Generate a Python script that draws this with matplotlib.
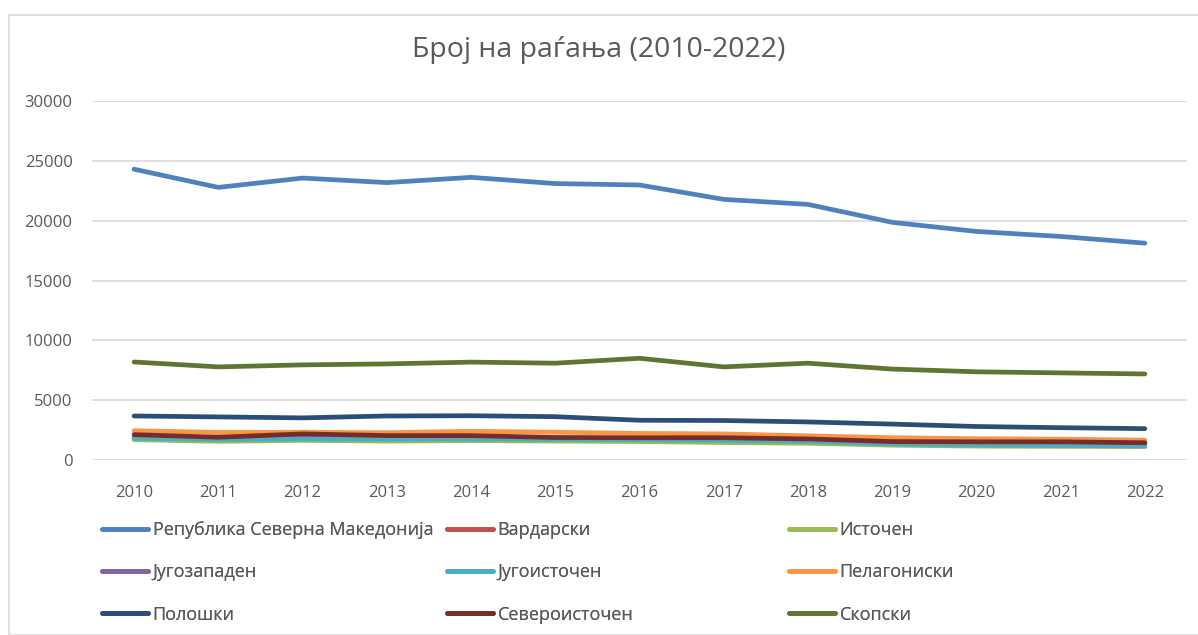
import matplotlib.pyplot as plt
from matplotlib.patches import Rectangle

plt.rcParams['font.family'] = ['Open Sans', 'DejaVu Sans']

years = list(range(2010, 2023))

# births per region
republika = [24300, 22780, 23560, 23180, 23620, 23100, 22980, 21780, 21360, 19860, 19100, 18680, 18120]
vardarski = [1800, 1720, 1780, 1740, 1760, 1700, 1680, 1620, 1560, 1420, 1360, 1340, 1300]
istochen = [1700, 1560, 1640, 1580, 1620, 1580, 1540, 1460, 1400, 1240, 1160, 1140, 1120]
jugozapaden = [1950, 1860, 1920, 1880, 1900, 1840, 1800, 1740, 1680, 1500, 1420, 1400, 1360]
jugoistochen = [1820, 1720, 1760, 1740, 1760, 1720, 1700, 1640, 1560, 1340, 1260, 1220, 1180]
pelagoniski = [2450, 2300, 2320, 2280, 2400, 2320, 2220, 2180, 2020, 1860, 1780, 1740, 1660]
poloshki = [3680, 3600, 3520, 3680, 3700, 3620, 3320, 3300, 3180, 3000, 2800, 2700, 2620]
severoistochen = [2120, 1900, 2180, 2040, 2040, 1880, 1860, 1860, 1760, 1540, 1520, 1520, 1440]
skopski = [8190, 7780, 7950, 8030, 8180, 8090, 8500, 7780, 8090, 7600, 7370, 7280, 7190]

names = ['Република Северна Македонија', 'Вардарски', 'Источен',
         'Југозападен', 'Југоисточен', 'Пелагониски',
         'Полошки', 'Североисточен', 'Скопски']
series = [republika, vardarski, istochen, jugozapaden, jugoistochen,
          pelagoniski, poloshki, severoistochen, skopski]
colors = ['#4F81BD', '#C0504D', '#9BBB59', '#8064A2', '#4BACC6',
          '#F79646', '#2C4D75', '#772C2A', '#5F7530']

fig = plt.figure(figsize=(11.98, 6.35), dpi=100)
ax = fig.add_axes([92 / 1198, 1 - 460 / 635, (1187 - 92) / 1198, (460 - 101) / 635])

lines = []
for vals, name, c in zip(series, names, colors):
    ln, = ax.plot(years, vals, color=c, lw=3.4, solid_capstyle='round',
                  solid_joinstyle='round', label=name)
    lines.append(ln)

ax.set_xlim(2009.5, 2022.5)
ax.set_ylim(0, 30000)
ax.set_yticks(range(0, 30001, 5000))
ax.set_xticks(years)
ax.grid(axis='y', color='#D9D9D9', lw=1.2)
ax.set_axisbelow(True)
for s in ax.spines.values():
    s.set_visible(False)
ax.tick_params(length=0, labelsize=12, colors='#595959')
ax.tick_params(axis='x', pad=18)
ax.tick_params(axis='y', pad=14)

fig.text(0.5, 1 - 50 / 635, 'Број на раѓања (2010-2022)', ha='center', va='center',
         fontsize=20.5, color='#595959')

# legend in three columns, as Excel lays it out
col_x = [102, 447, 789]
for i, x in enumerate(col_x):
    hs = [lines[i], lines[i + 3], lines[i + 6]]
    leg = fig.legend(hs, [h.get_label() for h in hs], loc='upper left',
                     bbox_to_anchor=(x / 1198, 1 - 521 / 635), frameon=False,
                     fontsize=13, handlelength=2.55, handletextpad=0.25,
                     labelspacing=1.35, borderaxespad=0, borderpad=0,
                     labelcolor='#595959')
    fig.add_artist(leg)

fig.patches.append(Rectangle((9 / 1198, 0), 1.1, 1 - 15 / 635, transform=fig.transFigure,
                             fill=False, edgecolor='#D9D9D9', lw=1.2))

fig.savefig('out.png', dpi=100)
